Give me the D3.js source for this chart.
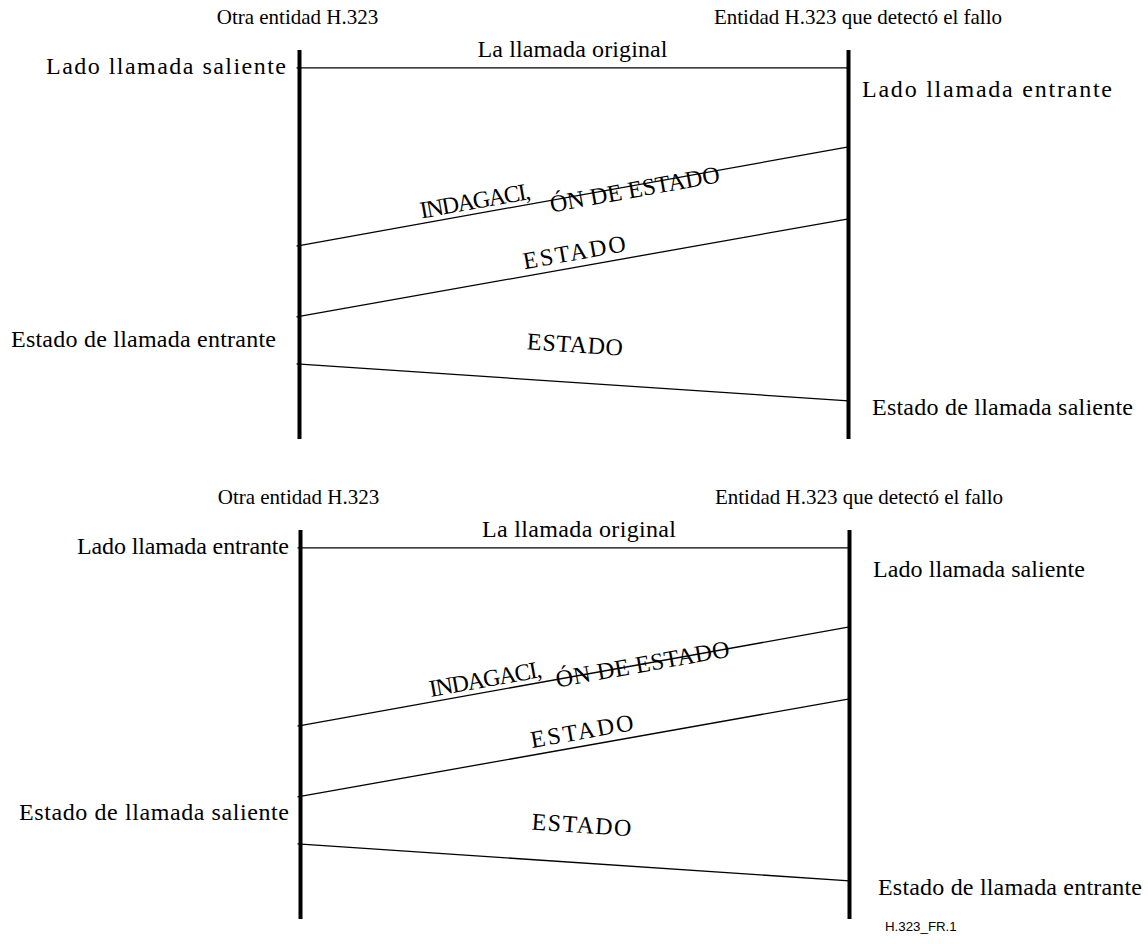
<!DOCTYPE html>
<html>
<head>
<meta charset="utf-8">
<script src="https://cdn.jsdelivr.net/npm/d3@7"></script>
<style>
  html, body { margin: 0; padding: 0; background: #fff; }
  svg text { font-family: "Liberation Serif", "Times New Roman", serif; fill: #000; }
</style>
</head>
<body>
<svg id="chart" width="1148" height="944"></svg>
<script>
// ---- data ----
const entities = ["Otra entidad H.323", "Entidad H.323 que detectó el fallo"];
const panelIds = ["caller-side", "callee-side"];
const leftSideLabels = ["Lado llamada saliente", "Lado llamada entrante"];
const rightSideLabels = ["Lado llamada entrante", "Lado llamada saliente"];
const leftStateLabels = ["Estado de llamada entrante", "Estado de llamada saliente"];
const rightStateLabels = ["Estado de llamada saliente", "Estado de llamada entrante"];
// messages: time (0..100 along lifeline) at the left and at the right lifeline
const messageLabels = [["La llamada original"], ["INDAGACI,", "ÓN DE ESTADO"], ["ESTADO"], ["ESTADO"]];
const messageLeftT = [4.6, 50.4, 68.6, 80.7];
const messageRightT = [4.6, 24.9, 43.4, 90.2];
const figureId = "H.323_FR.1";

// ---- layout ----
const svg = d3.select("#chart");
const panelOffsetY = [0, 480];
const panelOffsetX = [0, 1];
const x = d3.scalePoint().domain(entities).range([299.5, 848.5]);
const t = d3.scaleLinear().domain([0, 100]).range([50, 439]);
const FS = 24;
const HFS = 21;

// label placement along each message line: [fraction, perpendicular offset, textLength]
const labelPlacement = [
  [[0.5, -11, 190]],
  [[0.228, -5, 112], [0.458, 12, 172]],
  [[0.508, -7, 104]],
  [[0.5, -30, 96]]
];
const labelPlacementBottom = [
  [[0.51, -11, 194]],
  [[0.243, -5, 114], [0.468, 8, 176]],
  [[0.52, -7, 104]],
  [[0.51, -30, 100]]
];
// side label geometry per panel: [x, y, textLength]
const sideGeom = [
  { ls: [286, 74, 240], rs: [862, 97, 250], lst: [276, 347, 265], rst: [872, 415, 261] },
  { ls: [289, 74, 212], rs: [873, 97, 212], lst: [289, 340, 270], rst: [878, 415, 264] }
];

panelIds.forEach((pid, p) => {
  const g = svg.append("g").attr("id", pid)
    .attr("transform", `translate(${panelOffsetX[p]},${panelOffsetY[p]})`);

  // entity headers
  g.selectAll("text.entity").data(entities).join("text")
    .attr("class", "entity")
    .attr("x", d => x(d) + (d === entities[1] ? 9.5 : -2))
    .attr("y", 24)
    .attr("text-anchor", "middle")
    .attr("font-size", HFS)
    .text(d => d);

  // lifelines
  g.selectAll("line.life").data(entities).join("line")
    .attr("class", "life")
    .attr("x1", d => x(d)).attr("x2", d => x(d))
    .attr("y1", t(0)).attr("y2", t(100))
    .attr("stroke", "#000").attr("stroke-width", 4);

  // messages
  const place = p === 0 ? labelPlacement : labelPlacementBottom;
  messageLabels.forEach((labels, i) => {
    const x1 = x(entities[0]) - 3, y1 = t(messageLeftT[i]);
    const x2 = x(entities[1]), y2 = t(messageRightT[i]);
    g.append("line")
      .attr("x1", x1).attr("y1", y1).attr("x2", x2).attr("y2", y2)
      .attr("stroke", "#000").attr("stroke-width", 1.3);
    const ang = Math.atan2(y2 - y1, x2 - x1);
    const deg = ang * 180 / Math.PI;
    labels.forEach((lab, k) => {
      const [f, off, len] = place[i][k];
      const px = x1 + (x2 - x1) * f - Math.sin(ang) * off;
      const py = y1 + (y2 - y1) * f + Math.cos(ang) * off;
      const anchor = labels.length === 1 ? "middle" : "start";
      g.append("text")
        .attr("transform", `translate(${px},${py}) rotate(${deg})`)
        .attr("text-anchor", anchor)
        .attr("font-size", FS)
        .attr("textLength", len)
        .attr("lengthAdjust", "spacing")
        .text(lab);
    });
  });

  // side labels
  const sg = sideGeom[p];
  const side = (geom, anchor, label) => {
    const [sx, sy, len] = geom;
    g.append("text")
      .attr("x", anchor === "end" ? sx - panelOffsetX[p] - len : sx - panelOffsetX[p])
      .attr("y", sy)
      .attr("font-size", FS)
      .attr("textLength", len)
      .attr("lengthAdjust", "spacing")
      .text(label);
  };
  side(sg.ls, "end", leftSideLabels[p]);
  side(sg.rs, "start", rightSideLabels[p]);
  side(sg.lst, "end", leftStateLabels[p]);
  side(sg.rst, "start", rightStateLabels[p]);
});

svg.append("text")
  .attr("x", 885).attr("y", 931)
  .style("font-family", "'Liberation Sans', Arial, sans-serif")
  .attr("font-size", 13.3)
  .text(figureId);
</script>
</body>
</html>
